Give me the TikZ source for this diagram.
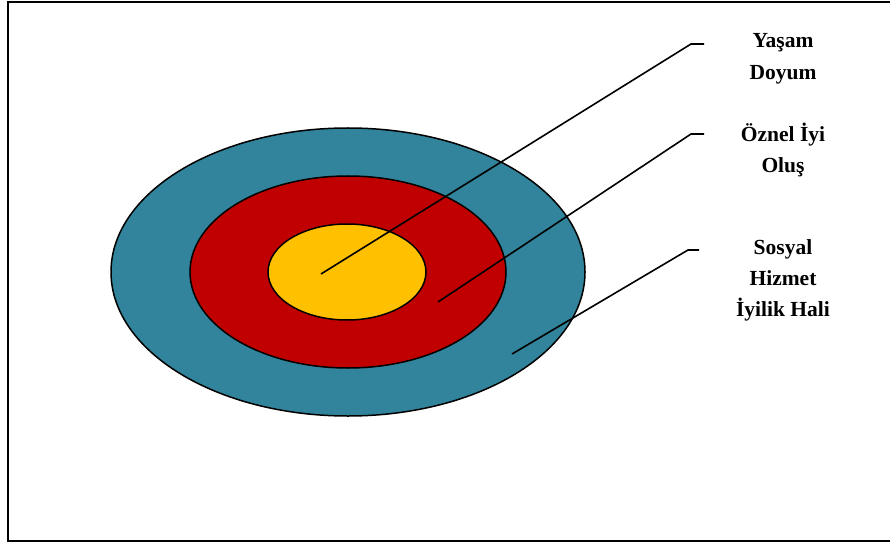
\documentclass[tikz,border=0pt]{standalone}
\usepackage{fontspec}
\setmainfont{Liberation Serif}
\definecolor{outerc}{HTML}{31849B}
\definecolor{midc}{HTML}{C00000}
\definecolor{innerc}{HTML}{FFC000}
\begin{document}
\begin{tikzpicture}[x=1pt,y=-1pt,
  ring/.style={draw=black,line width=1.5pt},
  leader/.style={draw=black,line width=1.6pt},
  lbl/.style={font=\fontsize{21.5}{31}\selectfont\bfseries,inner sep=0pt,anchor=base}]
\useasboundingbox (0,0) rectangle (890,545);
\draw[line width=2pt] (900,2) -- (8,2) -- (8,541) -- (900,541);
\path[ring,fill=outerc] (348,272) ellipse [x radius=237,y radius=144];
\path[ring,fill=midc] (348,272) ellipse [x radius=158,y radius=96];
\path[ring,fill=innerc] (347,272) ellipse [x radius=79,y radius=48];
\coordinate (p1) at (321,274);
\coordinate (e1) at (691,44);
\coordinate (t1) at (704,44);
\coordinate (p2) at (438,302);
\coordinate (e2) at (691,134);
\coordinate (t2) at (704,134);
\coordinate (p3) at (512,354);
\coordinate (e3) at (688,250);
\coordinate (t3) at (699,250);
\draw[leader] (p1) -- (e1) -- (t1);
\draw[leader] (p2) -- (e2) -- (t2);
\draw[leader] (p3) -- (e3) -- (t3);
\node[lbl] (l1a) at (783,48) {Yaşam};
\node[lbl] (l1b) at (783,80) {Doyum};
\node[lbl] (l2a) at (783,142) {Öznel İyi};
\node[lbl] (l2b) at (783,173) {Oluş};
\node[lbl] (l3a) at (783,254) {Sosyal};
\node[lbl] (l3b) at (783,285) {Hizmet};
\node[lbl] (l3c) at (783,316) {İyilik Hali};
\end{tikzpicture}
\end{document}
